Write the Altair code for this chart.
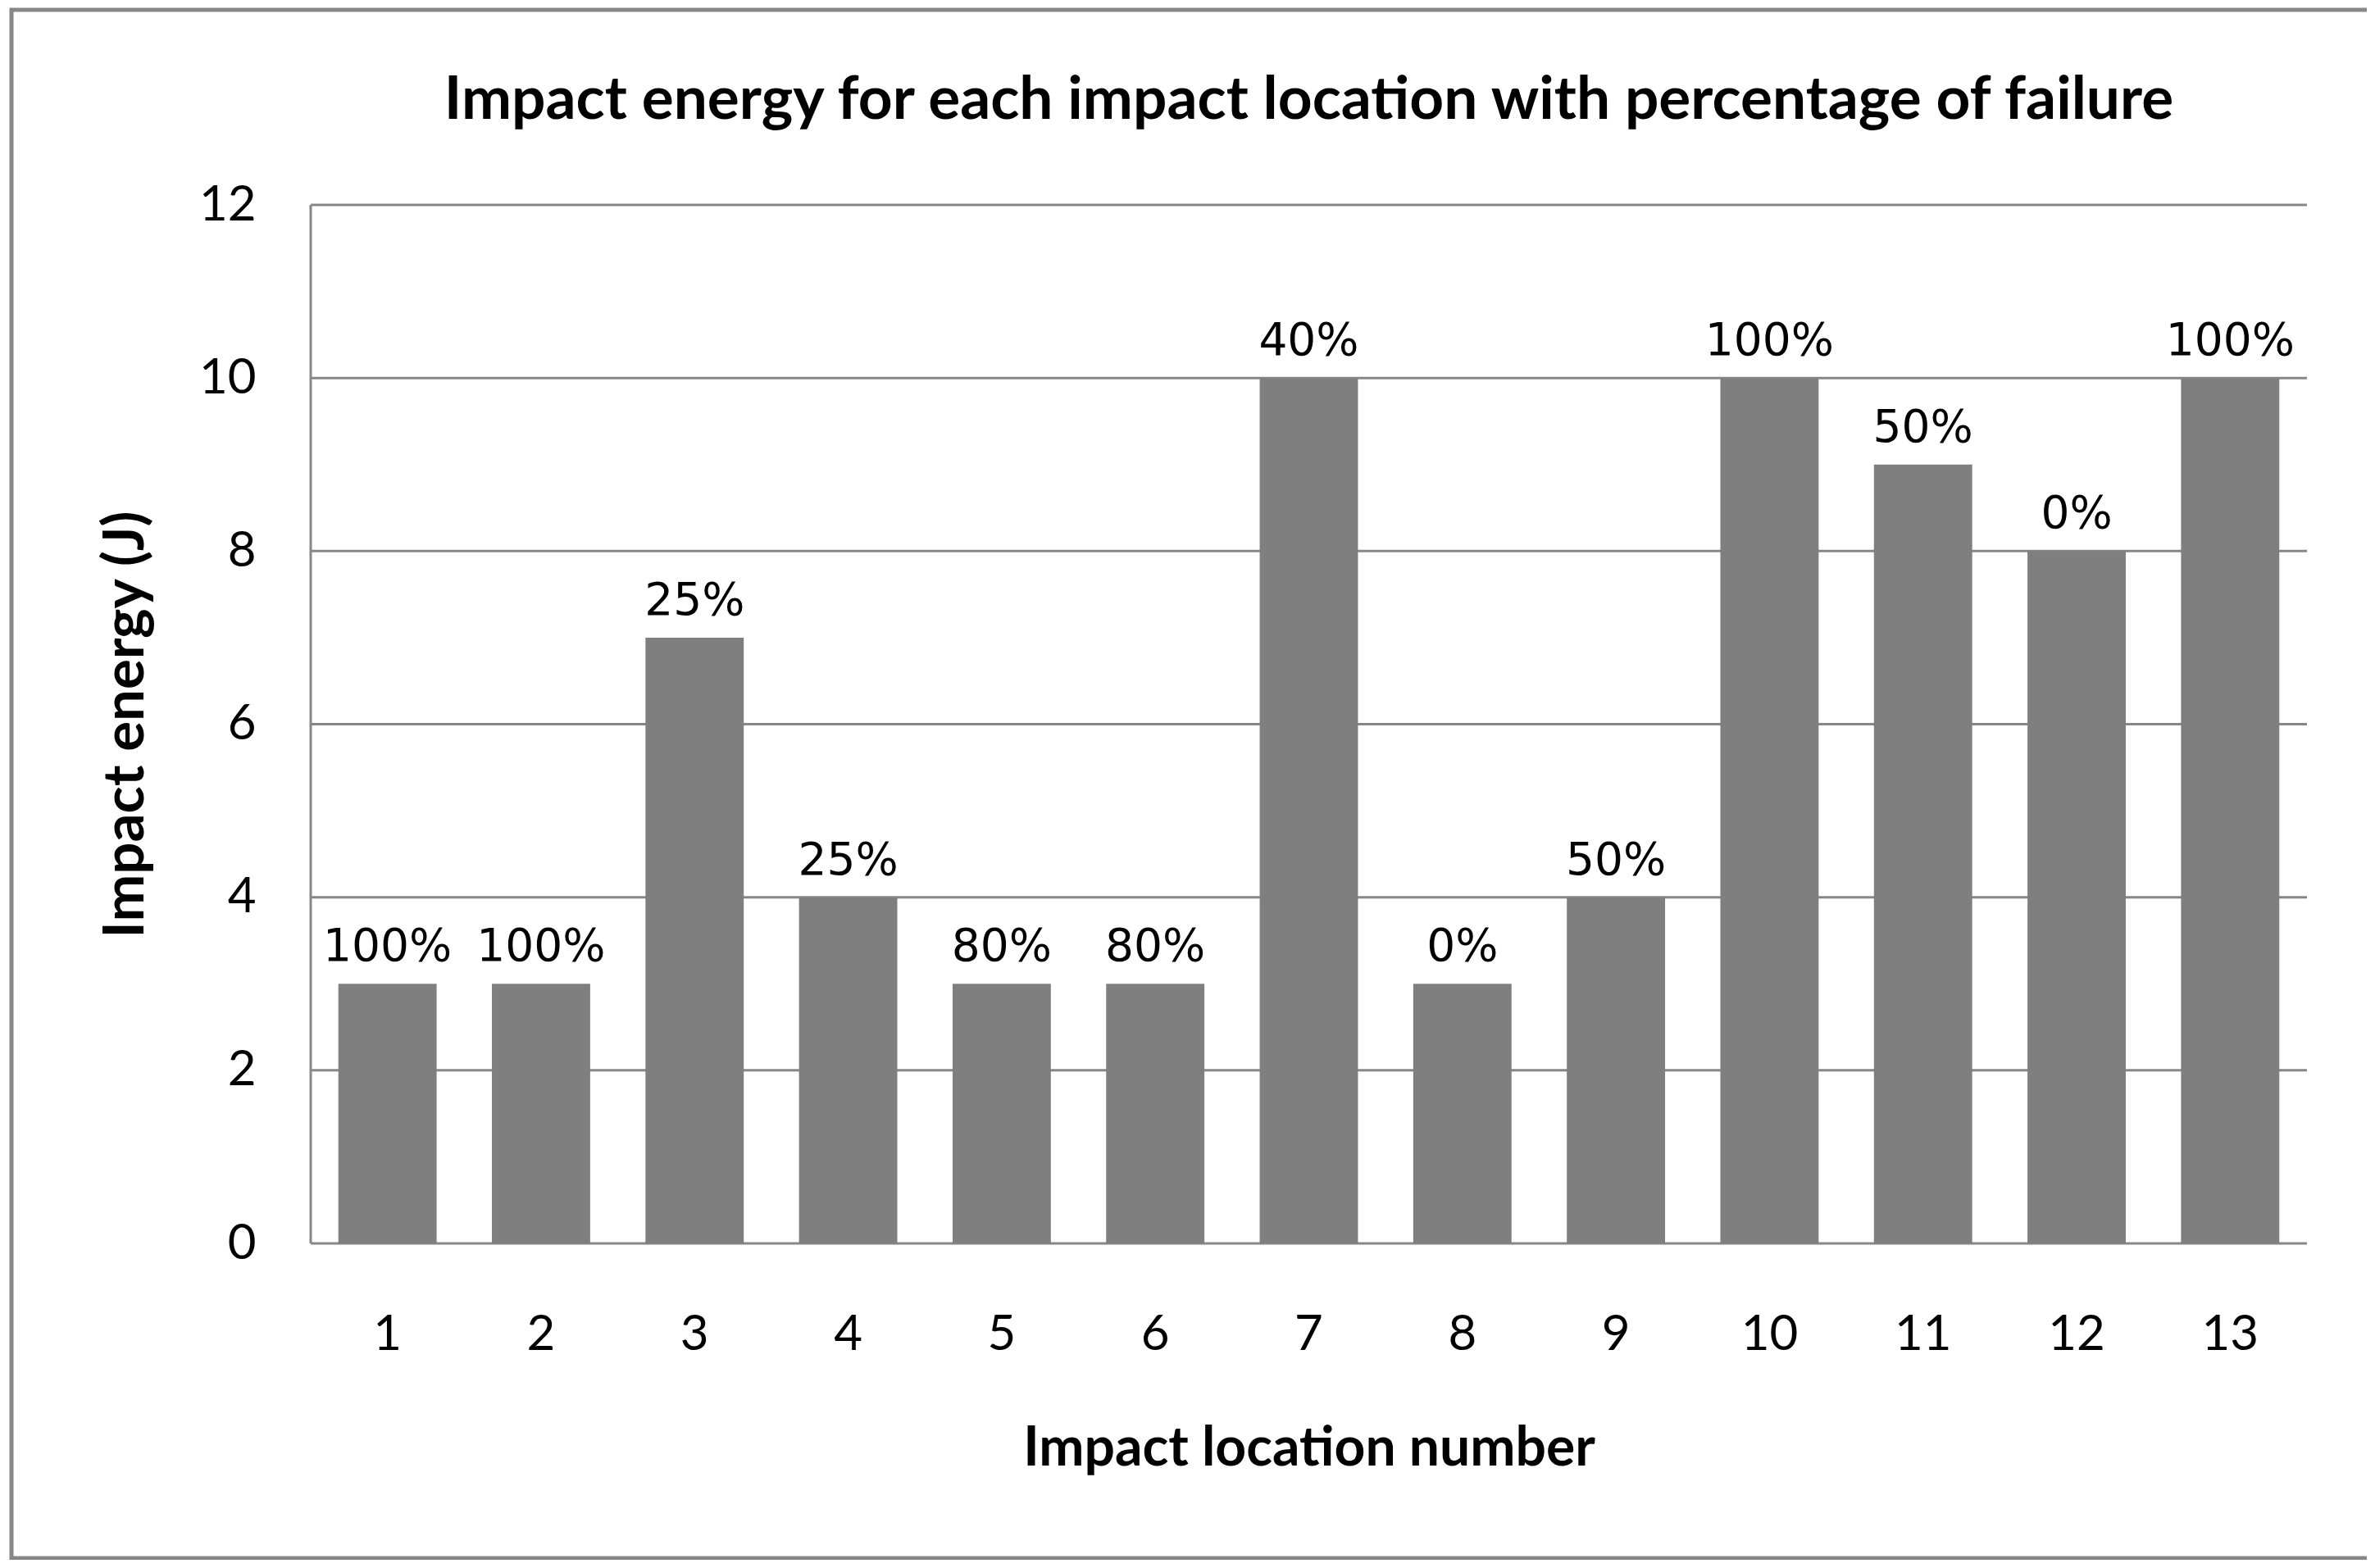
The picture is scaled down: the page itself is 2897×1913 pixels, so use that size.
import altair as alt
import pandas as pd

locations = [str(i) for i in range(1, 14)]
energy = [3, 3, 7, 4, 3, 3, 10, 3, 4, 10, 9, 8, 10]
failure = ["100%", "100%", "25%", "25%", "80%", "80%", "40%", "0%", "50%", "100%", "50%", "0%", "100%"]
y_ticks = [0, 2, 4, 6, 8, 10, 12]

df = pd.DataFrame({"loc": locations, "energy": energy, "failure": failure})
grid_df = pd.DataFrame({"energy": y_ticks})

W, H = 2435, 1267
GRAY = "#878787"
BAR = "#7f7f7f"

x_enc = alt.X(
    "loc:N",
    sort=locations,
    scale=alt.Scale(paddingInner=0.36, paddingOuter=0.18),
    axis=alt.Axis(
        title="Impact location number",
        titleFont="Lato", titleFontSize=66, titleFontWeight="bold", titleColor="black",
        titleY=250, titleBaseline="middle",
        labelFont="Lato", labelFontSize=60, labelColor="black", labelAngle=0,
        labelPadding=111, labelBaseline="middle",
        ticks=False, domain=False, grid=False,
    ),
)
y_enc = alt.Y(
    "energy:Q",
    scale=alt.Scale(domain=[0, 12], nice=False),
    axis=alt.Axis(
        title="Impact energy (J)",
        titleFont="Lato", titleFontSize=69, titleFontWeight="bold", titleColor="black",
        titleX=-226, titleY=H / 2, titleAlign="center", titleBaseline="middle", titleAngle=-90,
        values=y_ticks, format="d", labelFont="Lato", labelFontSize=60, labelColor="black",
        labelPadding=67, ticks=False, domain=False, grid=False,
    ),
)

frame = alt.Chart(pd.DataFrame({"a": [0]})).mark_rect(
    fill="transparent", stroke=GRAY, strokeWidth=5
).encode(
    x=alt.value(-365), x2=alt.value(2514), y=alt.value(-238), y2=alt.value(1651)
)

# horizontal gridlines (the one at 0 doubles as the category axis line)
gridlines = alt.Chart(grid_df).mark_rule(color=GRAY, strokeWidth=3).encode(
    y=y_enc, x=alt.value(0), x2=alt.value(W)
)

# left value-axis line
left_line = alt.Chart(pd.DataFrame({"a": [0]})).mark_rule(color=GRAY, strokeWidth=3).encode(
    x=alt.value(0), y=alt.value(0), y2=alt.value(H)
)

base = alt.Chart(df).encode(x=x_enc, y=y_enc)

bars = base.mark_bar(color=BAR)

labels = base.mark_text(
    font="DejaVu Sans", fontSize=55, color="black", baseline="alphabetic", dy=-28
).encode(text="failure:N")

chart = alt.layer(frame, gridlines, bars, left_line, labels).properties(
    width=W, height=H,
    title=alt.TitleParams(
        text="Impact energy for each impact location with percentage of failure",
        font="Lato", fontSize=73, fontWeight="bold", color="black",
        anchor="middle", offset=-150,
    ),
    autosize=alt.AutoSizeParams(type="none"),
    padding={"left": 371, "top": 242, "right": 73, "bottom": 386},
).configure(background="white").configure_view(strokeOpacity=0, strokeWidth=0)

chart.save("out.html", embed_options={"renderer": "svg", "actions": False})
